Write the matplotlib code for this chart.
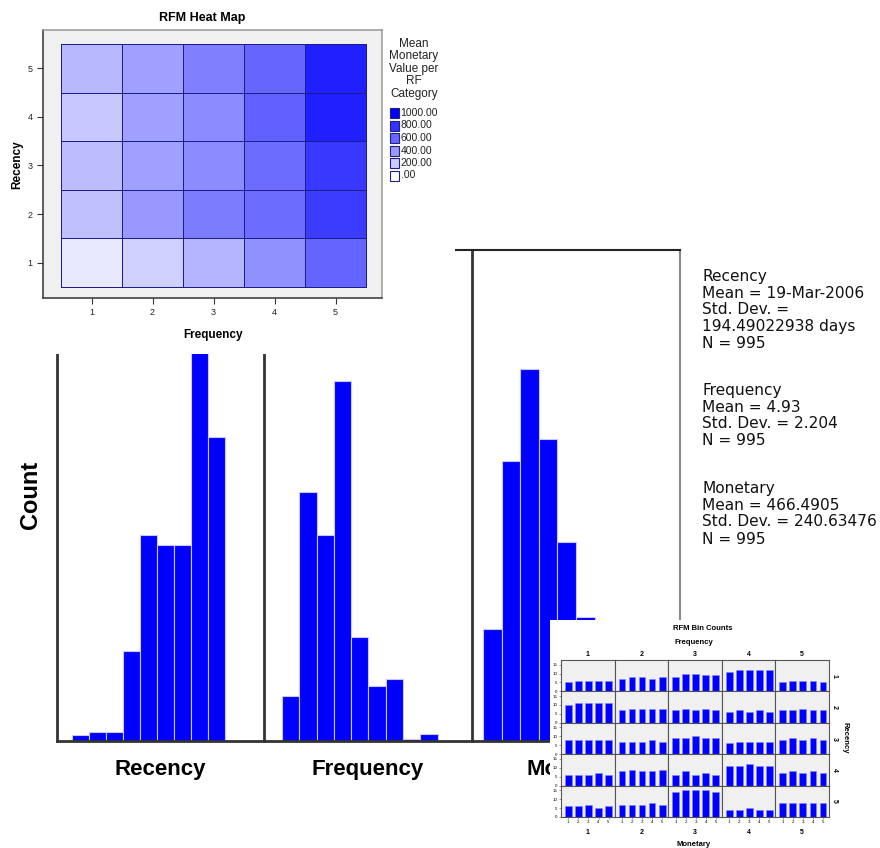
import matplotlib
matplotlib.use('Agg')
import matplotlib.pyplot as plt
from matplotlib.colors import LinearSegmentedColormap
from matplotlib.patches import Rectangle
import numpy as np

# --- data ---
hist_names = ['Recency', 'Frequency', 'Monetary']
recency_counts = [6, 9, 9, 90, 206, 196, 196, 400, 304, 0]
frequency_counts = [45, 249, 206, 360, 104, 55, 62, 2, 7, 0]
monetary_counts = [112, 280, 372, 302, 199, 124, 60, 25, 8, 3]

stats_lines = [
    ['Recency', 'Mean = 19-Mar-2006', 'Std. Dev. =', '194.49022938 days', 'N = 995'],
    ['Frequency', 'Mean = 4.93', 'Std. Dev. = 2.204', 'N = 995'],
    ['Monetary', 'Mean = 466.4905', 'Std. Dev. = 240.63476', 'N = 995'],
]

rf_labels = [1, 2, 3, 4, 5]
# mean monetary value per RF cell, rows = recency 1..5, cols = frequency 1..5
heat_values = np.array([
    [90, 184, 294, 435, 608],
    [247, 404, 514, 576, 765],
    [263, 373, 451, 576, 780],
    [216, 373, 451, 624, 875],
    [278, 373, 498, 600, 875],
])
legend_title = ['Mean', 'Monetary', 'Value per', 'RF', 'Category']
legend_values = [1000, 800, 600, 400, 200, 0]
legend_labels = ['1000.00', '800.00', '600.00', '400.00', '200.00', '.00']

# bin counts: [frequency][monetary] for each recency row
bins_r1 = [[5, 6, 6, 6, 6], [7, 8, 8, 7, 8], [8, 10, 10, 9, 9], [11, 12, 12, 12, 12], [5, 6, 6, 6, 5]]
bins_r2 = [[10, 11, 11, 11, 11], [7, 8, 8, 8, 8], [7, 8, 7, 8, 7], [6, 7, 6, 7, 6], [7, 7, 8, 7, 7]]
bins_r3 = [[8, 8, 8, 8, 8], [7, 7, 7, 8, 7], [9, 9, 10, 9, 9], [6, 7, 7, 7, 7], [8, 9, 8, 9, 8]]
bins_r4 = [[6, 6, 6, 7, 6], [8, 9, 8, 8, 9], [6, 8, 6, 7, 6], [11, 11, 12, 11, 11], [7, 8, 7, 8, 7]]
bins_r5 = [[6, 6, 7, 5, 6], [7, 7, 7, 8, 7], [14, 15, 15, 15, 14], [4, 4, 5, 4, 4], [8, 8, 8, 8, 8]]
bin_rows = [bins_r1, bins_r2, bins_r3, bins_r4, bins_r5]

W, H = 880, 848


def box(x0, y0, x1, y1):
    return [x0 / W, 1 - y1 / H, (x1 - x0) / W, (y1 - y0) / H]


plt.rcParams['font.family'] = ['Liberation Sans', 'DejaVu Sans']
fig = plt.figure(figsize=(8.8, 8.48), dpi=100)

# --- histograms (background) ---
panels = [(57, 264, -0.88, 17.0), (264, 472, -1.04, 17.3), (472, 680, -0.59, 18.6)]
all_counts = [recency_counts, frequency_counts, monetary_counts]
for i, (x0, x1, off, binpx) in enumerate(panels):
    ax = fig.add_axes(box(x0, 250, x1, 741))
    ax.set_zorder(1)
    counts = all_counts[i]
    ax.bar(np.arange(len(counts)), counts, width=1, align='edge',
           color='#0000ff', edgecolor='#c8c8ff', linewidth=0.8)
    ax.set_xlim(off, off + (x1 - x0) / binpx)
    ax.set_ylim(0, 491)
    ax.set_xticks([])
    ax.set_yticks([])
    ax.spines['left'].set_color('#333333')
    ax.spines['left'].set_linewidth(2)
    ax.spines['bottom'].set_color('#333333')
    ax.spines['bottom'].set_linewidth(2)
    ax.spines['top'].set_color('#222222')
    ax.spines['top'].set_linewidth(1.5)
    if i == 2:
        ax.spines['right'].set_color('#888888')
        ax.spines['right'].set_linewidth(1.5)
    else:
        ax.spines['right'].set_visible(False)
    fig.text((x0 + x1) / 2 / W, 1 - 770 / H, hist_names[i], ha='center', va='center',
             fontsize=16, fontweight='bold', zorder=2)

fig.text(30 / W, 1 - 495 / H, 'Count', rotation=90, ha='center', va='center',
         fontsize=17, fontweight='bold', zorder=2)

# stats text
stats_y = [[276, 293, 310, 327, 344], [390, 407, 424, 441], [488, 505, 522, 539]]
for block, ys in zip(stats_lines, stats_y):
    for line, y in zip(block, ys):
        fig.text(702 / W, 1 - y / H, line, ha='left', va='center', fontsize=11.1,
                 family='DejaVu Sans', color='#111111', zorder=2)

# --- heat map (top left) ---
cov = fig.add_axes(box(0, 0, 455, 354))
cov.set_zorder(5)
cov.set_xlim(0, 455)
cov.set_ylim(354, 0)
cov.set_xticks([])
cov.set_yticks([])
for s in cov.spines.values():
    s.set_visible(False)
cov.patch.set_facecolor('white')
cov.text(202, 18, 'RFM Heat Map', ha='center', va='center', fontsize=9, fontweight='bold')
cov.text(213, 335, 'Frequency', ha='center', va='center', fontsize=8.5, fontweight='bold')
cov.text(17, 165, 'Recency', ha='center', va='center', rotation=90, fontsize=8.5, fontweight='bold')
for k, line in enumerate(legend_title):
    cov.text(414, 44 + k * 12.5, line, ha='center', va='center', fontsize=8.5, color='#222222')

cmap = LinearSegmentedColormap.from_list('wb', ['#ffffff', '#0000ff'])
for k, (v, lab) in enumerate(zip(legend_values, legend_labels)):
    yc = 113 + k * 12.5
    cov.add_patch(Rectangle((390, yc - 5), 9, 10, facecolor=cmap(v / 1000),
                            edgecolor='#202080', linewidth=0.8))
    cov.text(400.5, yc, lab, ha='left', va='center', fontsize=7.5, color='#222222')

hax = fig.add_axes(box(43, 30, 382, 298))
hax.set_zorder(6)
hax.set_facecolor('#f0f0f0')
edges = np.arange(0.5, 6.0, 1.0)
hax.pcolormesh(edges, edges, heat_values, cmap=cmap, vmin=0, vmax=1000,
               edgecolors='#1c1c8c', linewidth=0.7)
hax.set_xlim(0.205, 5.76)
hax.set_ylim(0.27, 5.79)
hax.set_xticks(rf_labels)
hax.set_yticks(rf_labels)
hax.tick_params(direction='out', length=4, labelsize=6.5, color='#333333', labelcolor='#222222')
for side, s in hax.spines.items():
    s.set_color('#333333' if side in ('left', 'bottom') else '#999999')
    s.set_linewidth(1.1)

# --- RFM bin counts (bottom right) ---
icov = fig.add_axes(box(550, 620, 880, 848))
icov.set_zorder(10)
icov.set_xlim(550, 880)
icov.set_ylim(848, 620)
icov.set_xticks([])
icov.set_yticks([])
for s in icov.spines.values():
    s.set_visible(False)
icov.patch.set_facecolor('white')
icov.text(703, 628, 'RFM Bin Counts', ha='center', va='center', fontsize=5.5, fontweight='bold')
icov.text(694, 642, 'Frequency', ha='center', va='center', fontsize=5.5, fontweight='bold')
icov.text(694, 845, 'Monetary', ha='center', va='center', fontsize=5.5, fontweight='bold')
icov.text(845, 738, 'Recency', ha='center', va='center', rotation=-90, fontsize=5.5, fontweight='bold')

gx0, gx1, gy0, gy1 = 561, 829, 660, 817
cw = (gx1 - gx0) / 5
rh = (gy1 - gy0) / 5
for j in range(5):
    xc = gx0 + (j + 0.5) * cw
    icov.text(xc, 654, str(rf_labels[j]), ha='center', va='center', fontsize=5, fontweight='bold')
    icov.text(xc, 833, str(rf_labels[j]), ha='center', va='center', fontsize=5, fontweight='bold')
for i in range(5):
    yc = gy0 + (i + 0.5) * rh
    icov.text(834, yc, str(rf_labels[i]), ha='center', va='center', rotation=-90,
              fontsize=5, fontweight='bold')

for i, row in enumerate(bin_rows):
    for j, vals in enumerate(row):
        ax = fig.add_axes(box(gx0 + j * cw, gy0 + i * rh, gx0 + (j + 1) * cw, gy0 + (i + 1) * rh))
        ax.set_zorder(11)
        ax.set_facecolor('#f0f0f0')
        ax.bar(rf_labels, vals, width=0.67, color='#0000ff', edgecolor='#8888ff', linewidth=0.4)
        ax.set_xlim(0.27, 5.6)
        ax.set_ylim(0, 17.6)
        ax.set_xticks(rf_labels)
        ax.set_yticks([0, 5, 10, 15])
        ax.tick_params(labelsize=3.2, length=1.5, width=0.4, pad=1, color='#555555')
        if j != 0:
            ax.set_yticklabels([])
            ax.tick_params(axis='y', length=0)
        if i != 4:
            ax.set_xticklabels([])
            ax.tick_params(axis='x', length=0)
        for s in ax.spines.values():
            s.set_color('#555555')
            s.set_linewidth(0.8)

fig.savefig('out.png', dpi=100)
